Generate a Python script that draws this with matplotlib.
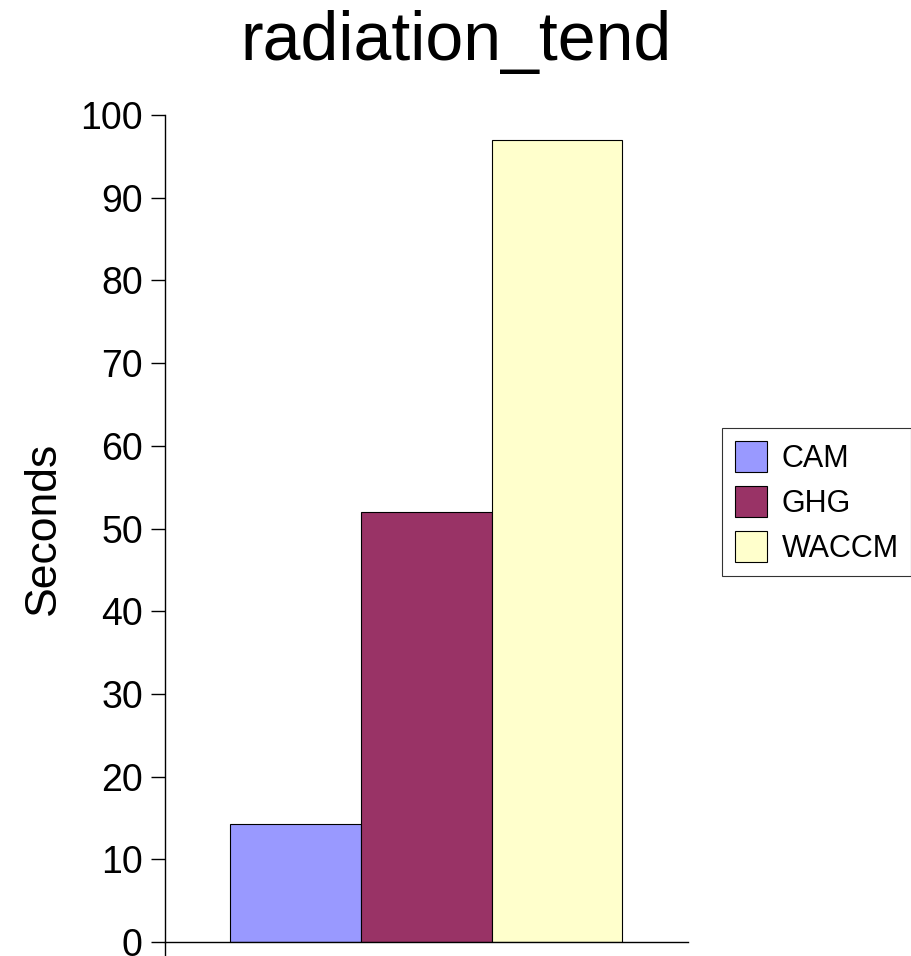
import numpy as np
import matplotlib.pyplot as plt

plt.rcParams['font.family'] = ['Liberation Sans', 'DejaVu Sans']

# data
series = ['CAM', 'GHG', 'WACCM']
seconds = [14.3, 52.0, 97.0]
colors = ['#9999FF', '#993366', '#FFFFCC']
yticks = np.arange(0, 101, 10)

fig = plt.figure(figsize=(9.12, 9.56), dpi=100)
ax = fig.add_axes([0.181, 0.0146, 0.573, 0.865])

width = 1.0
offsets = (np.arange(len(series)) - (len(series) - 1) / 2) * width
for i in range(len(series)):
    ax.bar(offsets[i], seconds[i], width=width, color=colors[i],
           edgecolor='black', linewidth=0.8, label=series[i])

ax.set_xlim(-2, 2)
ax.set_ylim(0, 100)
ax.set_yticks(yticks)
ax.tick_params(axis='y', labelsize=27, length=10, width=1, pad=6, direction='out')
# small downward tick at the axis origin
ax.set_xticks([-2])
ax.set_xticklabels([''])
ax.tick_params(axis='x', length=10, width=1, direction='out')

for s in ['top', 'right']:
    ax.spines[s].set_visible(False)
ax.spines['left'].set_linewidth(1)
ax.spines['bottom'].set_linewidth(1)

ax.set_ylabel('Seconds', fontsize=32, labelpad=12)
fig.suptitle('radiation_tend', fontsize=49, y=0.99)

leg = fig.legend(loc='center left', bbox_to_anchor=(0.792, 0.4745), fontsize=22,
                 frameon=True, fancybox=False, shadow=False,
                 handlelength=1.05, handleheight=1.2, handletextpad=0.5,
                 labelspacing=0.4, borderpad=0.4, borderaxespad=0)
leg.get_frame().set_edgecolor('black')
leg.get_frame().set_linewidth(0.8)

fig.savefig('out.png', dpi=100)
